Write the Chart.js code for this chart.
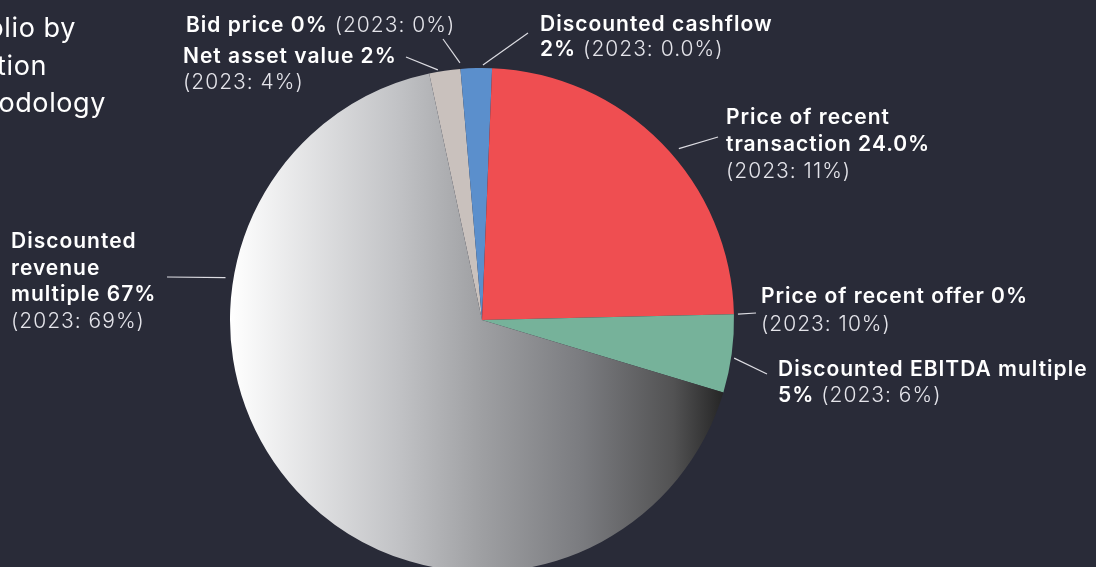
<!DOCTYPE html>
<html lang="en">
<head>
    <meta charset="UTF-8">
    <title>Portfolio by valuation methodology</title>
    <script src="https://cdn.jsdelivr.net/npm/chart.js"></script>
    <style>
        body { margin: 0; padding: 0; background: #292b38; overflow: hidden; }
        #wrap { position: absolute; top: 0; left: 0; width: 1096px; height: 600px; }
    </style>
</head>
<body>

<div id="wrap">
    <canvas id="pieChart" width="1096" height="600"></canvas>
</div>

<script>
    // Valuation methods, clockwise from the top-left of the pie
    const methods = ['Net asset value', 'Bid price', 'Discounted cashflow', 'Price of recent transaction',
                     'Price of recent offer', 'Discounted EBITDA multiple', 'Discounted revenue multiple'];
    const share2024 = [2, 0, 2, 24, 0, 5, 67];
    const shareText2024 = ['2%', '0%', '2%', '24.0%', '0%', '5%', '67%'];
    const shareText2023 = ['4%', '0%', '0.0%', '11%', '10%', '6%', '69%'];
    const sliceColors = ['#c9c1bd', '#c9c1bd', '#5b8fcc', '#ef4e51', '#76b29a', '#76b29a', null];

    const titleLines = ['Portfolio by', 'valuation', 'methodology'];

    const B = '600', L = '300';
    const cur = i => `${shareText2024[i]}`;
    const old = i => `(2023: ${shareText2023[i]})`;

    // label text blocks: x, first baseline, lines of [text, weight] runs, leader line
    const labels = [
        { i: 0, x: 183, y: 63, lh: 26, lines: [[[`Net asset value ${cur(0)}`, B]], [[old(0), L]]], out: [406, 57], t: 0.29, gap: 2 },
        { i: 1, x: 186, y: 32, lh: 26, lines: [[[`Bid price ${cur(1)}`, B], [' ' + old(1), L]]], out: [443, 39], t: 0.5, gap: 6 },
        { i: 2, x: 540, y: 31, lh: 25, lines: [[['Discounted cashflow', B]], [[cur(2), B], [' ' + old(2), L]]], out: [528, 33], t: 0.71, gap: 3 },
        { i: 3, x: 726, y: 124, lh: 27, lines: [[['Price of recent', B]], [[`transaction ${cur(3)}`, B]], [[old(3), L]]], out: [718, 137], t: 0.54, gap: 9 },
        { i: 4, x: 761, y: 303, lh: 28, lines: [[[`Price of recent offer ${cur(4)}`, B]], [[old(4), L]]], out: [756, 313], t: 0.5, gap: 4 },
        { i: 5, x: 778, y: 376, lh: 26, lines: [[['Discounted EBITDA multiple', B]], [[cur(5), B], [' ' + old(5), L]]], out: [767, 374], t: 0.55, gap: 3 },
        { i: 6, x: 11, y: 248, lh: 26.5, lines: [[['Discounted', B]], [['revenue', B]], [[`multiple ${cur(6)}`, B]], [[old(6), L]]], out: [167, 277], t: 0.716, gap: 8 }
    ];

    function greyGradient(context) {
        const chart = context.chart;
        const a = chart.chartArea;
        if (!a) return '#999';
        const g = chart.ctx.createLinearGradient(a.left, 0, a.right, 0);
        g.addColorStop(0, '#ffffff');
        g.addColorStop(0.33, '#c2c3c6');
        g.addColorStop(0.5, '#9e9fa2');
        g.addColorStop(0.7, '#7a7b7f');
        g.addColorStop(0.88, '#525253');
        g.addColorStop(1, '#1c1c1c');
        return g;
    }

    const labelPlugin = {
        id: 'labelPlugin',
        afterDraw(chart) {
            const ctx = chart.ctx;
            const arcs = chart.getDatasetMeta(0).data;
            ctx.save();

            // title, cut off at the left edge
            ctx.fillStyle = '#ffffff';
            ctx.font = '400 27px Inter';
            ctx.letterSpacing = '0.6px';
            ctx.textAlign = 'right';
            ctx.textBaseline = 'alphabetic';
            const titleRight = [76, 47, 106];
            titleLines.forEach((t, k) => ctx.fillText(t, titleRight[k], 37 + k * 37.5));

            ctx.textAlign = 'left';
            ctx.letterSpacing = '1px';
            labels.forEach(lb => {
                // leader line from the slice edge out to the text
                const arc = arcs[lb.i];
                const ang = arc.startAngle + lb.t * (arc.endAngle - arc.startAngle);
                const r = arc.outerRadius + lb.gap;
                ctx.strokeStyle = '#dcdce2';
                ctx.lineWidth = 1.2;
                ctx.beginPath();
                ctx.moveTo(arc.x + r * Math.cos(ang), arc.y + r * Math.sin(ang));
                ctx.lineTo(lb.out[0], lb.out[1]);
                ctx.stroke();

                lb.lines.forEach((runs, k) => {
                    let x = lb.x;
                    const y = lb.y + k * lb.lh;
                    runs.forEach(([txt, w]) => {
                        ctx.font = `${w} 21px Inter`;
                        ctx.fillStyle = w === B ? '#ffffff' : '#e4e4ea';
                        ctx.fillText(txt, x, y);
                        x += ctx.measureText(txt).width;
                    });
                });
            });
            ctx.restore();
        }
    };

    const ctx = document.getElementById('pieChart').getContext('2d');
    const pieChart = new Chart(ctx, {
        type: 'pie',
        data: {
            labels: methods,
            datasets: [{
                data: share2024,
                backgroundColor: c => sliceColors[c.dataIndex] || greyGradient(c),
                borderWidth: 0,
                hoverOffset: 0
            }]
        },
        options: {
            responsive: false,
            animation: false,
            events: [],
            rotation: -12.1,
            layout: { padding: { top: 68, left: 230, right: 362, bottom: 28 } },
            plugins: {
                legend: { display: false },
                tooltip: { enabled: false }
            }
        },
        plugins: [labelPlugin]
    });
</script>

</body>
</html>
